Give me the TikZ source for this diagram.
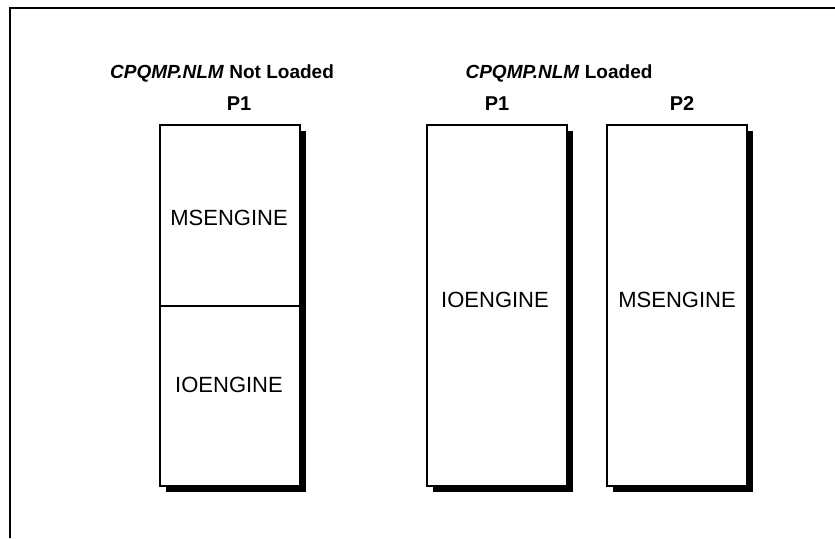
\documentclass[tikz,border=0pt]{standalone}
\usepackage{fontspec}
\setmainfont{Liberation Sans}
\usetikzlibrary{positioning,shadows}

\begin{document}
\begin{tikzpicture}[
  x=1pt, y=-1pt,
  proc/.style={
    rectangle, draw=black, fill=white, line width=2pt,
    minimum width=140pt, inner sep=0,
    drop shadow={shadow xshift=6pt, shadow yshift=-6pt,
      shadow scale=1, fill=black, opacity=1}
  },
  eng/.style={font=\fontsize{22}{26}\selectfont, inner sep=0},
  plabel/.style={font=\fontsize{20}{24}\selectfont\bfseries, inner sep=0},
  title/.style={font=\fontsize{19}{22}\selectfont\bfseries, anchor=base},
]
\useasboundingbox (0,0) rectangle (835,538);
% Frame
\coordinate (ftl) at (9.5,7.5);
\coordinate (ftr) at (835,7.5);
\coordinate (fbl) at (9.5,538);
\draw[line width=2pt] (ftr) -- (ftl) -- (fbl);
% Not loaded
\node[proc,minimum height=181pt] (ms1) at (230,215.5) {};
\node[proc,minimum height=180pt] (io1) at (230,396) {};
% Loaded
\node[proc,minimum height=361pt] (io2) at (497,305.5) {};
\node[proc,minimum height=361pt] (ms2) at (677,305.5) {};
% Engines
\node[eng] (ms1t) at (229,218) {MSENGINE};
\node[eng] (io1t) at (229,385) {IOENGINE};
\node[eng] (io2t) at (495,300) {IOENGINE};
\node[eng] (ms2t) at (677,300) {MSENGINE};
% Labels
\node[plabel,above=13pt of ms1,xshift=9pt] (p1a) {P1};
\node[plabel,above=13pt of io2] (p1b) {P1};
\node[plabel,above=13pt of ms2,xshift=5pt] (p2)  {P2};
\node[title] (t1) at (222,78) {\textit{CPQMP.NLM} Not Loaded};
\node[title] (t2) at (559,78) {\textit{CPQMP.NLM} Loaded};
\end{tikzpicture}
\end{document}
